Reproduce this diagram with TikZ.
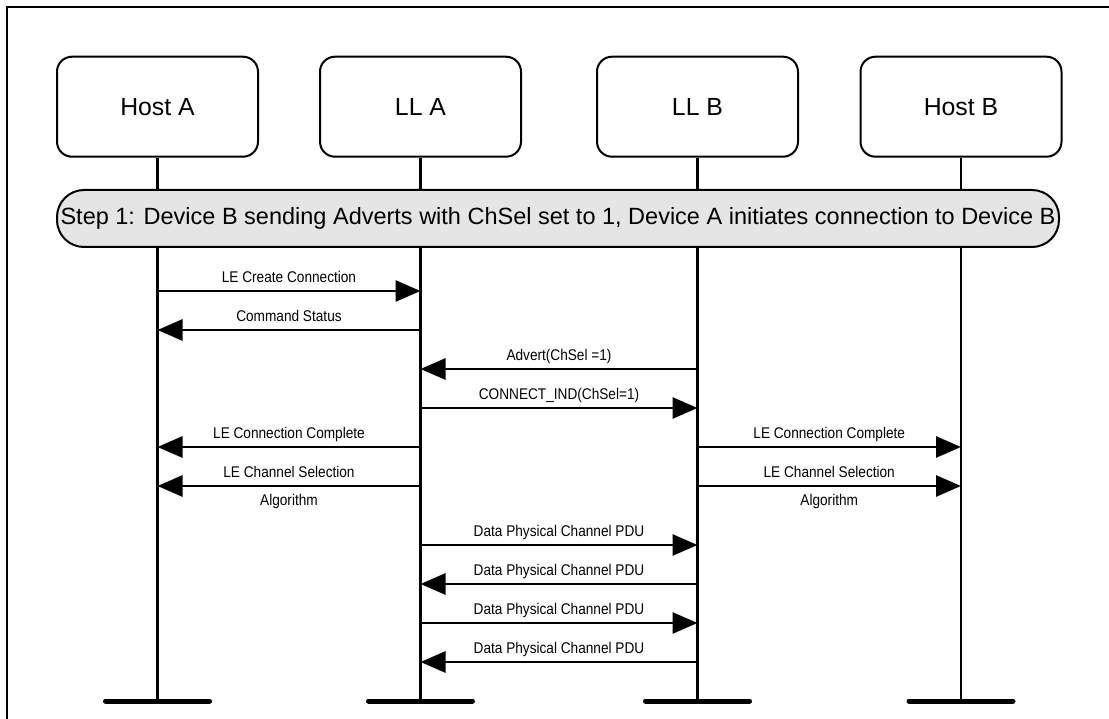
\documentclass[tikz,border=0pt]{standalone}
\usepackage{fontspec}
\setmainfont{Liberation Sans}
\newfontfamily\msgfont[FakeStretch=0.88]{Liberation Sans}
\usetikzlibrary{arrows.meta}

\begin{document}
\begin{tikzpicture}[x=1pt, y=-1pt,
    actor/.style={draw, line width=2pt, rounded corners=15pt, minimum width=201pt, minimum height=100pt, font=\fontsize{24.8}{28}\selectfont},
    stepnote/.style={draw, line width=2pt, fill=black!10, rounded corners=27pt, minimum width=1002pt, minimum height=57pt, inner sep=0pt, font=\fontsize{23.5}{26}\selectfont},
    lifeline/.style={line width=2.2pt},
    endbar/.style={line width=5pt, line cap=round},
    msg/.style={line width=2.8pt, -{Triangle[length=25pt, width=21pt]}},
    msglabel/.style={midway, anchor=base, yshift=8.5pt, font=\msgfont\fontsize{15.5}{17}\selectfont},
    msgbelow/.style={midway, anchor=base, yshift=-19.5pt, font=\msgfont\fontsize{15.5}{17}\selectfont}]
    \useasboundingbox (0,0) rectangle (1109,719);
    \draw[line width=2pt] (7,719) -- (7,7) -- (1109,7); % marc
    \node[actor] (hostA) at (157.5,106.7) {Host A};
    \node[actor] (llA) at (420.5,106.7) {LL A};
    \node[actor] (llB) at (697.5,106.7) {LL B};
    \node[actor] (hostB) at (961,106.7) {Host B};
    \foreach \n in {hostA,llA,llB,hostB} {
        \coordinate (\n-end) at (\n |- 0,701);
        \draw[lifeline] (\n) -- (\n-end);
        \draw[endbar] ([xshift=-52pt]\n-end) -- ([xshift=52pt]\n-end); % barra final
    }
    \node[stepnote] (step1) at (558,218.5) {Step 1: Device B sending Adverts with ChSel set to 1, Device A initiates connection to Device B};
    \foreach \y/\a/\b/\txt in {291/hostA/llA/LE Create Connection, 330/llA/hostA/Command Status,
        369/llB/llA/Advert(ChSel =1), 408/llA/llB/CONNECT\_IND(ChSel=1),
        447/llA/hostA/LE Connection Complete, 447/llB/hostB/LE Connection Complete,
        545/llA/llB/Data Physical Channel PDU, 584/llB/llA/Data Physical Channel PDU,
        623/llA/llB/Data Physical Channel PDU, 662/llB/llA/Data Physical Channel PDU}
        \draw[msg] (\a |- 0,\y) -- node[msglabel] {\txt} (\b |- 0,\y);
    \draw[msg] (llA |- 0,486) -- node[msglabel] {LE Channel Selection} node[msgbelow] {Algorithm} (hostA |- 0,486);
    \draw[msg] (llB |- 0,486) -- node[msglabel] {LE Channel Selection} node[msgbelow] {Algorithm} (hostB |- 0,486);
\end{tikzpicture}
\end{document}
